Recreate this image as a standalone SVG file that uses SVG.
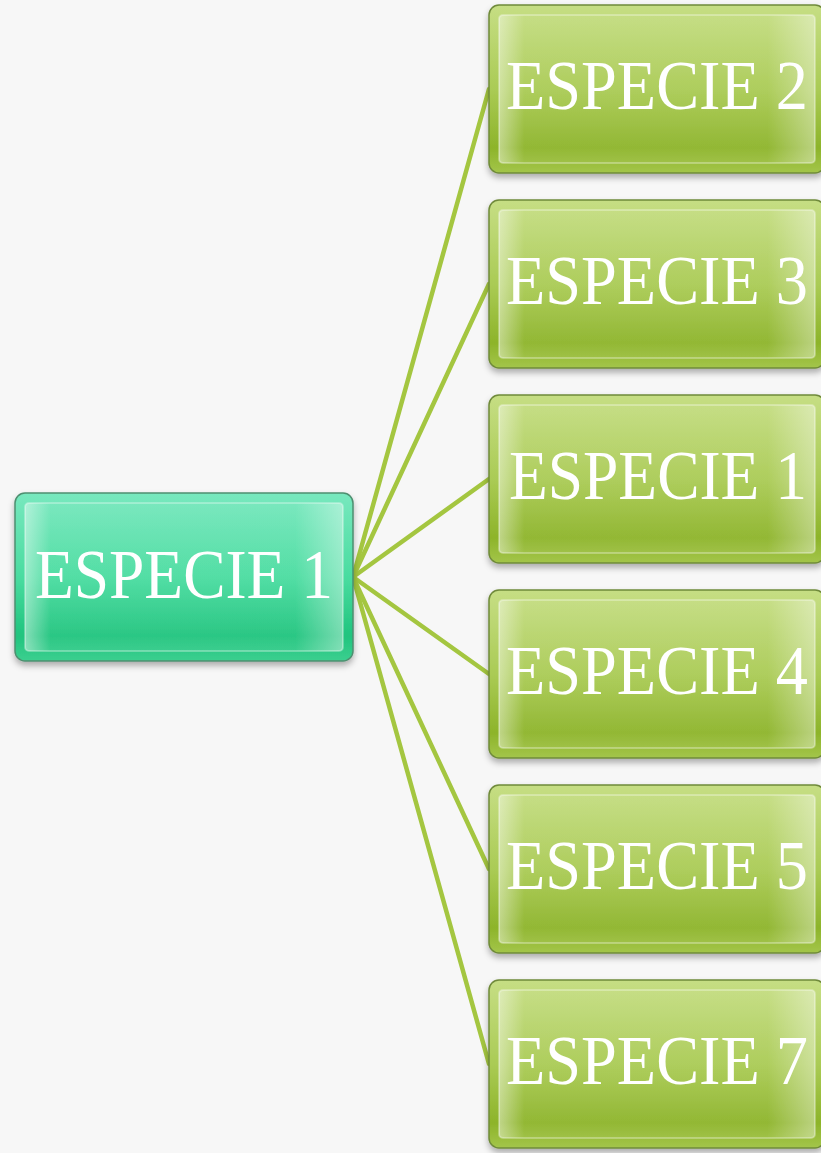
<svg xmlns="http://www.w3.org/2000/svg" width="821" height="1153" viewBox="0 0 821 1153">
<defs>
<linearGradient id="gRoot" x1="0" y1="0" x2="0" y2="1">
<stop offset="0" stop-color="#78e8be"/>
<stop offset="0.5" stop-color="#4adca0"/>
<stop offset="0.85" stop-color="#20c47e"/>
<stop offset="1" stop-color="#3ccf8f"/>
</linearGradient>
<linearGradient id="gLeaf" x1="0" y1="0" x2="0" y2="1">
<stop offset="0" stop-color="#c6de84"/>
<stop offset="0.5" stop-color="#aacb55"/>
<stop offset="0.85" stop-color="#8db42a"/>
<stop offset="1" stop-color="#a3c54a"/>
</linearGradient>
<linearGradient id="gSide" x1="0" y1="0" x2="1" y2="0">
<stop offset="0" stop-color="#ffffff" stop-opacity="0.45"/>
<stop offset="0.08" stop-color="#ffffff" stop-opacity="0.05"/>
<stop offset="0.85" stop-color="#ffffff" stop-opacity="0.05"/>
<stop offset="1" stop-color="#ffffff" stop-opacity="0.4"/>
</linearGradient>
<filter id="sh" x="-10%" y="-10%" width="120%" height="130%">
<feDropShadow dx="0" dy="4" stdDeviation="3" flood-color="#000" flood-opacity="0.3"/>
</filter>
</defs>
<style>
.root{fill:url(#gRoot);stroke:#4e8f70;stroke-width:1.5}
.leaf{fill:url(#gLeaf);stroke:#6f8a3a;stroke-width:1.5}
.gloss{fill:url(#gSide);stroke:#ffffff;stroke-opacity:0.3;stroke-width:2}
.lbl{font-family:"Liberation Serif","Times New Roman",serif;font-size:70px;fill:#ffffff}
.conn{stroke:#a4c640;stroke-width:4.5;fill:none;stroke-linecap:round}
</style>
<rect width="821" height="1153" fill="#f7f7f7"/>
<g id="connectors">
<line class="conn" x1="353" y1="577" x2="489" y2="89"/>
<line class="conn" x1="353" y1="577" x2="489" y2="284"/>
<line class="conn" x1="353" y1="577" x2="489" y2="479"/>
<line class="conn" x1="353" y1="577" x2="489" y2="674"/>
<line class="conn" x1="353" y1="577" x2="489" y2="869"/>
<line class="conn" x1="353" y1="577" x2="489" y2="1064"/>
</g>
<g id="node-root" filter="url(#sh)">
<rect class="root" x="15" y="493" width="338" height="168" rx="10"/>
<rect class="gloss" x="25" y="503" width="318" height="148" rx="4"/>
<text class="lbl" x="35" y="598" textLength="298" lengthAdjust="spacingAndGlyphs">ESPECIE 1</text>
</g>
<g id="node-2" filter="url(#sh)">
<rect class="leaf" x="489" y="5" width="336" height="168" rx="10"/>
<rect class="gloss" x="499" y="15" width="316" height="148" rx="4"/>
<text class="lbl" x="506" y="109" textLength="302" lengthAdjust="spacingAndGlyphs">ESPECIE 2</text>
</g>
<g id="node-3" filter="url(#sh)">
<rect class="leaf" x="489" y="200" width="336" height="168" rx="10"/>
<rect class="gloss" x="499" y="210" width="316" height="148" rx="4"/>
<text class="lbl" x="506" y="304" textLength="302" lengthAdjust="spacingAndGlyphs">ESPECIE 3</text>
</g>
<g id="node-1b" filter="url(#sh)">
<rect class="leaf" x="489" y="395" width="336" height="168" rx="10"/>
<rect class="gloss" x="499" y="405" width="316" height="148" rx="4"/>
<text class="lbl" x="509" y="499" textLength="298" lengthAdjust="spacingAndGlyphs">ESPECIE 1</text>
</g>
<g id="node-4" filter="url(#sh)">
<rect class="leaf" x="489" y="590" width="336" height="168" rx="10"/>
<rect class="gloss" x="499" y="600" width="316" height="148" rx="4"/>
<text class="lbl" x="506" y="694" textLength="302" lengthAdjust="spacingAndGlyphs">ESPECIE 4</text>
</g>
<g id="node-5" filter="url(#sh)">
<rect class="leaf" x="489" y="785" width="336" height="168" rx="10"/>
<rect class="gloss" x="499" y="795" width="316" height="148" rx="4"/>
<text class="lbl" x="506" y="889" textLength="302" lengthAdjust="spacingAndGlyphs">ESPECIE 5</text>
</g>
<g id="node-7" filter="url(#sh)">
<rect class="leaf" x="489" y="980" width="336" height="168" rx="10"/>
<rect class="gloss" x="499" y="990" width="316" height="148" rx="4"/>
<text class="lbl" x="506" y="1084" textLength="302" lengthAdjust="spacingAndGlyphs">ESPECIE 7</text>
</g>
</svg>
